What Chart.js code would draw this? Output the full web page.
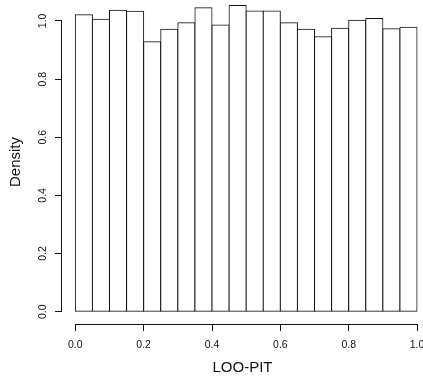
<!DOCTYPE html>
<html>
<head>
<meta charset="utf-8">
<script src="https://cdn.jsdelivr.net/npm/chart.js@4"></script>
<style>
  html, body { margin: 0; padding: 0; background: #fff; }
  #wrap { width: 423px; height: 379px; }
</style>
</head>
<body>
<div id="wrap"><canvas id="mychart"></canvas></div>
<script>
// histogram bins (left edges), width 0.05
const binStarts = [0.00, 0.05, 0.10, 0.15, 0.20, 0.25, 0.30, 0.35, 0.40, 0.45,
                   0.50, 0.55, 0.60, 0.65, 0.70, 0.75, 0.80, 0.85, 0.90, 0.95];
const binWidth = 0.05;
const density = [1.021, 1.006, 1.037, 1.033, 0.928, 0.971, 0.994, 1.045, 0.986, 1.053,
                 1.034, 1.034, 0.994, 0.971, 0.946, 0.975, 1.002, 1.008, 0.973, 0.978];
const xTicks = [0.0, 0.2, 0.4, 0.6, 0.8, 1.0];
const yTicks = [0.0, 0.2, 0.4, 0.6, 0.8, 1.0];

const points = binStarts.map((b, i) => ({ x: b + binWidth / 2, y: density[i] }));

const font = "'Liberation Sans', Arial, sans-serif";
const ink = "#111";

// R style detached axis lines, only from first to last tick
const axisLines = {
  id: "axisLines",
  afterDraw(chart) {
    const ctx = chart.ctx;
    const xs = chart.scales.x, ys = chart.scales.y;
    const area = chart.chartArea;
    ctx.save();
    ctx.strokeStyle = ink;
    ctx.lineWidth = 1;
    ctx.beginPath();
    const ax = Math.round(area.left) - 0.5;
    ctx.moveTo(ax, ys.getPixelForValue(yTicks[0]));
    ctx.lineTo(ax, ys.getPixelForValue(yTicks[yTicks.length - 1]));
    const ay = Math.round(area.bottom) + 0.5;
    ctx.moveTo(xs.getPixelForValue(xTicks[0]), ay);
    ctx.lineTo(xs.getPixelForValue(xTicks[xTicks.length - 1]), ay);
    ctx.stroke();
    ctx.restore();
  }
};

const config = {
  type: "bar",
  data: {
    datasets: [{
      label: "",
      data: points,
      backgroundColor: "#fff",
      borderColor: ink,
      borderWidth: 1,
      borderSkipped: false,
      inflateAmount: 0.5,
      barPercentage: 1,
      categoryPercentage: 1
    }]
  },
  options: {
    responsive: true,
    maintainAspectRatio: false,
    animation: false,
    layout: { padding: 0 },
    plugins: { legend: { display: false }, tooltip: { enabled: false } },
    scales: {
      x: {
        type: "linear",
        offset: false,
        min: -0.039,
        max: 1.0175,
        afterBuildTicks: (s) => { s.ticks = xTicks.map(v => ({ value: v })); },
        afterFit: (s) => { s.height = 55; s.paddingLeft = 0; s.paddingRight = 0; },
        border: { display: false },
        grid: { offset: false, drawOnChartArea: false, drawTicks: true, tickLength: 7, color: ink },
        ticks: {
          color: ink,
          font: { family: font, size: 10.5 },
          padding: 8,
          maxRotation: 0,
          callback: (v) => v.toFixed(1)
        },
        title: {
          display: true,
          text: "LOO-PIT",
          color: ink,
          font: { family: font, size: 15 },
          padding: { top: 0, bottom: 2 }
        }
      },
      y: {
        min: -0.0423,
        max: 1.072,
        afterBuildTicks: (s) => { s.ticks = yTicks.map(v => ({ value: v })); },
        afterFit: (s) => { s.width = 62; s.paddingTop = 0; s.paddingBottom = 0; },
        border: { display: false },
        grid: { drawOnChartArea: false, drawTicks: true, tickLength: 7, color: ink },
        ticks: {
          color: ink,
          font: { family: font, size: 10.5 },
          padding: 5,
          minRotation: 90,
          maxRotation: 90,
          crossAlign: "center",
          callback: (v) => v.toFixed(1)
        },
        title: {
          display: true,
          text: "Density",
          color: ink,
          font: { family: font, size: 15 },
          padding: { top: 7, bottom: 0 }
        }
      }
    }
  },
  plugins: [axisLines]
};

const mychart = new Chart(document.getElementById("mychart"), config);
</script>
</body>
</html>
